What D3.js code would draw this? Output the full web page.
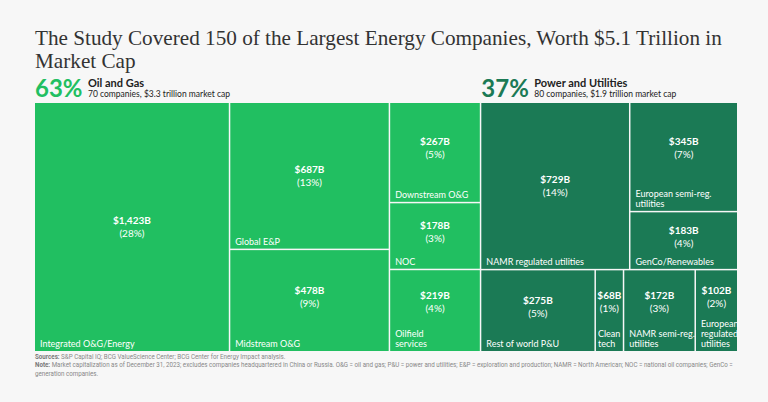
<!DOCTYPE html>
<html>
<head>
<meta charset="utf-8">
<script src="https://cdn.jsdelivr.net/npm/d3@7"></script>
<style>
  body { margin: 0; background: #f7f7f7; }
  svg { display: block; }
</style>
</head>
<body>
<svg id="chart"></svg>
<script>
const titleLines = ["The Study Covered 150 of the Largest Energy Companies, Worth $5.1 Trillion in", "Market Cap"];

const sectors = ["Oil and Gas", "Power and Utilities"];
const sectorShares = ["63%", "37%"];
const sectorNotes = ["70 companies, $3.3 trillion market cap", "80 companies, $1.9 trillion market cap"];

// segments, in the order they are laid out
const segmentNames = [
  "Integrated O&G/Energy", "Global E&P", "Midstream O&G",
  "Downstream O&G", "NOC", "Oilfield\nservices",
  "NAMR regulated utilities", "European semi-reg.\nutilities", "GenCo/Renewables",
  "Rest of world P&U", "Clean\ntech", "NAMR semi-reg.\nutilities", "European\nregulated\nutilities"
];
const segmentValues = [1423, 687, 478, 267, 178, 219, 729, 345, 183, 275, 68, 172, 102];
const segmentSector = [0, 0, 0, 0, 0, 0, 1, 1, 1, 1, 1, 1, 1];
const segmentBlock = ["col1", "col2", "col2", "col3", "col3", "col3", "top", "top", "top", "bottom", "bottom", "bottom", "bottom"];
const segmentGroup = ["int", "gep", "mid", "down", "noc", "ofs", "namr", "eugen", "eugen", "row", "clean", "namrsemi", "eureg"];

const sources = "S&P Capital IQ; BCG ValueScience Center; BCG Center for Energy Impact analysis.";
const note = "Market capitalization as of December 31, 2023; excludes companies headquartered in China or Russia. O&G = oil and gas; P&U = power and utilities; E&P = exploration and production; NAMR = North American; NOC = national oil companies; GenCo = generation companies.";

const width = 768, height = 402;
const colors = ["#21bf61", "#1b7a55"];
const sans = "Lato, 'Open Sans', sans-serif";

const svg = d3.select("#chart").attr("width", width).attr("height", height);

svg.append("text")
  .attr("x", 35).attr("y", 45)
  .attr("font-family", "'Liberation Serif', serif")
  .attr("font-size", 21.2)
  .attr("fill", "#333")
  .selectAll("tspan")
  .data(titleLines)
  .join("tspan")
  .attr("x", 35)
  .attr("dy", (d, i) => i ? 23 : 0)
  .text(d => d);

const data = segmentNames.map((name, i) => ({
  name,
  value: segmentValues[i],
  sector: sectors[segmentSector[i]],
  block: segmentBlock[i],
  group: segmentGroup[i]
}));
const total = d3.sum(segmentValues);

// dice / slice alternating per sector so it looks like the original
function tile(node, x0, y0, x1, y1) {
  const sector = node.depth ? node.ancestors().find(a => a.depth === 1).data[0] : null;
  let dice;
  if (node.depth === 0) dice = true;
  else if (node.depth === 1) dice = sector === sectors[0];
  else if (node.depth === 2) dice = sector !== sectors[0];
  else dice = false;
  (dice ? d3.treemapDice : d3.treemapSlice)(node, x0, y0, x1, y1);
}

const root = d3.hierarchy(d3.group(data, d => d.sector, d => d.block, d => d.group))
  .sum(d => d.value);

const tx = 35, ty = 103, tw = 702, th = 248;
d3.treemap().tile(tile).size([tw, th]).paddingInner(1.5)(root);

// sector headers above the treemap
const headers = svg.append("g")
  .selectAll("g")
  .data(root.children)
  .join("g")
  .attr("transform", d => `translate(${tx + d.x0},97)`);

headers.append("text")
  .attr("font-family", sans)
  .attr("font-weight", 700)
  .attr("font-size", 24)
  .attr("fill", (d, i) => colors[i])
  .text((d, i) => sectorShares[i]);

headers.append("text")
  .attr("x", 53).attr("y", -10)
  .attr("font-family", sans)
  .attr("font-weight", 700)
  .attr("font-size", 11)
  .attr("fill", "#222")
  .text(d => d.data[0]);

headers.append("text")
  .attr("x", 53).attr("y", 0)
  .attr("font-family", sans)
  .attr("font-size", 8.5)
  .attr("fill", "#222")
  .text((d, i) => sectorNotes[i]);

const g = svg.append("g").attr("transform", `translate(${tx},${ty})`);

const cell = g.selectAll("g")
  .data(root.leaves())
  .join("g")
  .attr("transform", d => `translate(${d.x0},${d.y0})`);

cell.append("rect")
  .attr("width", d => d.x1 - d.x0)
  .attr("height", d => d.y1 - d.y0)
  .attr("fill", d => colors[sectors.indexOf(d.data.sector)]);

const lineH = 10;
const fmtPct = d3.format(".0%");

cell.each(function(d) {
  const w = d.x1 - d.x0, h = d.y1 - d.y0;
  const lines = d.data.name.split("\n");
  const nameBlock = lines.length * lineH + 6;
  const mid = (h - nameBlock) / 2 + (h > 140 ? 8 : 4);
  const c = d3.select(this);

  c.append("text")
    .attr("x", w / 2).attr("y", mid - 3)
    .attr("text-anchor", "middle")
    .attr("font-family", sans)
    .attr("font-weight", 700)
    .attr("font-size", 10)
    .attr("fill", "#fff")
    .text("$" + d3.format(",")(d.data.value) + "B");

  c.append("text")
    .attr("x", w / 2).attr("y", mid + 10)
    .attr("text-anchor", "middle")
    .attr("font-family", sans)
    .attr("font-size", 10)
    .attr("fill", "#fff")
    .text("(" + fmtPct(d.data.value / total) + ")");

  const pad = w < 40 ? 2 : 5;
  c.append("text")
    .attr("font-family", sans)
    .attr("font-size", 9)
    .attr("fill", "#fff")
    .selectAll("tspan")
    .data(lines)
    .join("tspan")
    .attr("x", pad)
    .attr("y", (t, i) => h - 4 - (lines.length - 1 - i) * lineH)
    .text(t => t);
});

// footnotes, wrapped to the chart width; squeezed to look condensed
const squeeze = 0.89;
const foot = svg.append("g")
  .attr("transform", `translate(35,0) scale(${squeeze},1)`)
  .attr("font-family", "'Roboto', sans-serif")
  .attr("font-size", 7)
  .attr("fill", "#888");

function footnote(label, body, y) {
  const words = body.split(" ");
  let text = foot.append("text").attr("x", 0).attr("y", y);
  text.append("tspan").attr("font-weight", 700).attr("fill", "#777").text(label + " ");
  let line = text.append("tspan");
  let cur = [];
  let row = 0;
  words.forEach(w => {
    cur.push(w);
    line.text(cur.join(" "));
    if (text.node().getComputedTextLength() > 702 / squeeze && cur.length > 1) {
      cur.pop();
      line.text(cur.join(" "));
      row++;
      cur = [w];
      text = foot.append("text").attr("x", 0).attr("y", y + row * 8.5);
      line = text.append("tspan").text(w);
    }
  });
  return row;
}

const rows = footnote("Sources:", sources, 359);
footnote("Note:", note, 367.5 + rows * 8.5);
</script>
</body>
</html>
